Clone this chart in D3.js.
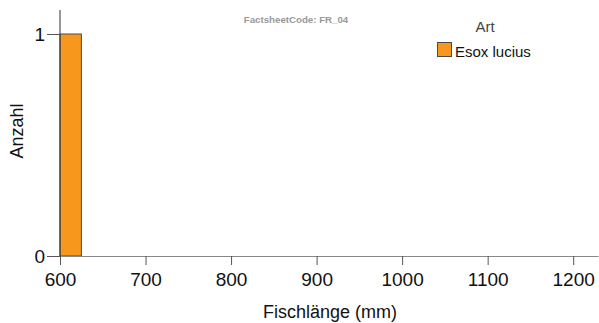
<!DOCTYPE html>
<html><head><meta charset="utf-8">
<script src="https://cdn.jsdelivr.net/npm/d3@7"></script>
<style>body{margin:0;background:#fff}svg{display:block;font-family:"Liberation Sans",Arial,sans-serif}</style>
</head><body><svg id="c" width="599" height="323"></svg>
<script>
const binStarts = [600];
const binEnds = [625];
const counts = [1];
const species = ["Esox lucius"];
const xTicks = [600, 700, 800, 900, 1000, 1100, 1200];
const yTicks = [0, 1];
const colors = ["#F7981D"];

const svg = d3.select("#c");
const x = d3.scaleLinear().domain([600, 1229]).range([60, 598]);
const y = d3.scaleLinear().domain([0, 1]).range([256, 34]);

svg.selectAll("rect.bar").data(counts).enter().append("rect")
  .attr("x", (d,i) => x(binStarts[i]))
  .attr("y", d => y(d))
  .attr("width", (d,i) => x(binEnds[i]) - x(binStarts[i]))
  .attr("height", d => y(0) - y(d))
  .attr("fill", colors[0]).attr("stroke", "#4a4a4a").attr("stroke-width", 1);

const xa = svg.append("g").attr("transform", "translate(0,256)")
  .call(d3.axisBottom(x).tickValues(xTicks).tickSize(9).tickSizeOuter(0).tickPadding(8).tickFormat(d3.format("d")));
xa.select(".domain").attr("stroke", "#888");
xa.selectAll(".tick line").attr("stroke", "#555");
xa.selectAll("text").attr("font-size", 19).attr("fill", "#111").attr("font-family", "Liberation Sans, Arial, sans-serif");

const ya = svg.append("g").attr("transform", "translate(60,0)")
  .call(d3.axisLeft(y).tickValues(yTicks).tickSize(13).tickSizeOuter(0).tickPadding(2).tickFormat(d3.format("d")));
ya.select(".domain").attr("d", "M0,10V256").attr("stroke", "#333");
ya.selectAll(".tick line").attr("stroke", "#555");
ya.selectAll("text").attr("font-size", 19).attr("fill", "#111").attr("font-family", "Liberation Sans, Arial, sans-serif");

svg.append("text").attr("x", 330).attr("y", 318).attr("text-anchor", "middle")
  .attr("font-size", 18).attr("fill", "#111").text("Fischlänge (mm)");
svg.append("text").attr("transform", "translate(23,131) rotate(-90)").attr("text-anchor", "middle")
  .attr("font-size", 18).attr("fill", "#111").text("Anzahl");

svg.append("text").attr("x", 296).attr("y", 23).attr("text-anchor", "middle")
  .attr("font-size", 9.7).attr("font-weight", "bold").attr("fill", "#999").text("FactsheetCode: FR_04");

svg.append("text").attr("x", 485).attr("y", 32).attr("text-anchor", "middle")
  .attr("font-size", 15).attr("fill", "#444").text("Art");
const lg = svg.selectAll("g.leg").data(species).enter().append("g");
lg.append("rect").attr("x", 437.5).attr("y", 42.5).attr("width", 14).attr("height", 14)
  .attr("fill", (d,i) => colors[i]).attr("stroke", "#4a4a4a");
lg.append("text").attr("x", 455).attr("y", 57).attr("font-size", 15).attr("fill", "#111").text(d => d);
</script></body></html>
